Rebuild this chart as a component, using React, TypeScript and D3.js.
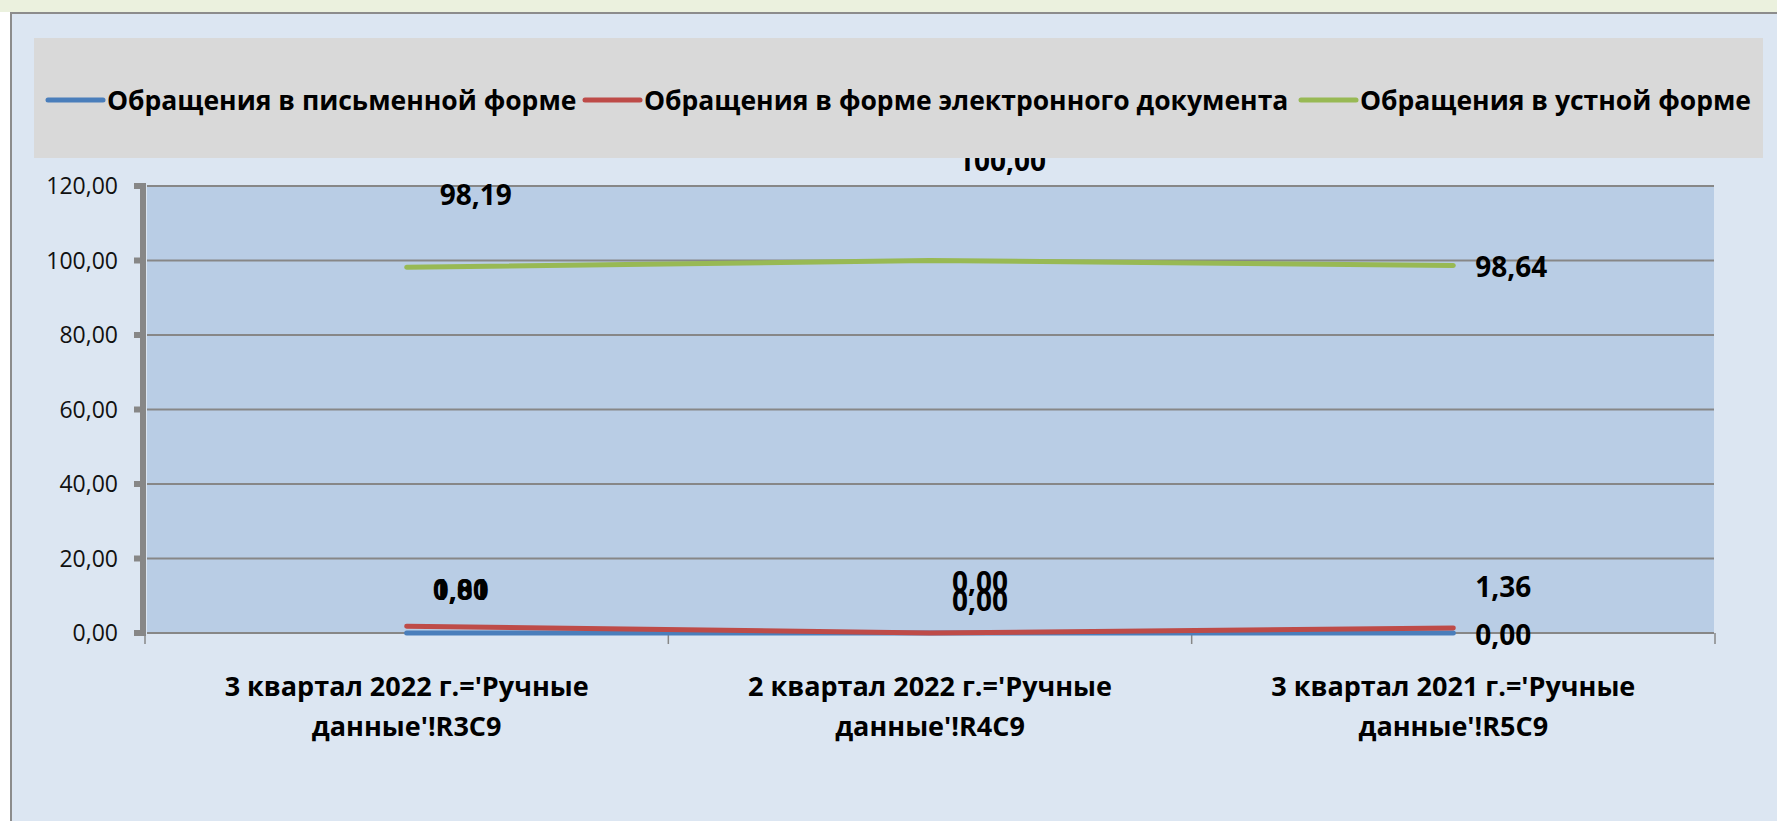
import React from 'react';
import * as d3 from 'd3';

// data
const categoryLines = [
  ["3 квартал 2022 г.='Ручные", "данные'!R3C9"],
  ["2 квартал 2022 г.='Ручные", "данные'!R4C9"],
  ["3 квартал 2021 г.='Ручные", "данные'!R5C9"],
];
const writtenValues = [0, 0, 0];
const electronicValues = [1.81, 0, 1.36];
const oralValues = [98.19, 100, 98.64];
const yTicks = [0, 20, 40, 60, 80, 100, 120];

const W = 1777;
const H = 821;
const FONT = "'Open Sans', 'Noto Sans', sans-serif";

// label offsets (px) from each point, as placed in the original
const series = [
  {
    name: 'Обращения в письменной форме',
    values: writtenValues,
    color: '#4A7EBB',
    labelOffsets: [[54, -43], [50, -32], [50, 2]],
    legendX: 48,
  },
  {
    name: 'Обращения в форме электронного документа',
    values: electronicValues,
    color: '#BE4B48',
    labelOffsets: [[54, -36], [50, -51], [50, -41]],
    legendX: 585,
  },
  {
    name: 'Обращения в устной форме',
    values: oralValues,
    color: '#98B954',
    labelOffsets: [[69, -72], [72, -100], [58, 1]],
    legendX: 1301,
  },
];

const ruLocale = d3.formatLocale({ decimal: ',', thousands: ' ', grouping: [3], currency: ['', ''] });
const fmt = ruLocale.format('.2f');

export default function App() {
  const plot = { left: 147, right: 1714, top: 186, bottom: 633 };
  const axisLeft = 145;
  const axisRight = 1715;

  const x = d3
    .scalePoint<number>()
    .domain(categoryLines.map((_, i) => i))
    .range([axisLeft, axisRight])
    .padding(0.5);

  const y = d3.scaleLinear().domain([0, 120]).range([plot.bottom, plot.top]);

  const line = d3
    .line<number>()
    .x((_, i) => x(i) as number)
    .y((d) => y(d));

  // category boundary ticks
  const step = x.step();
  const boundaries = d3.range(categoryLines.length + 1).map((i) => axisLeft + i * step);

  const grid = '#878787';

  return (
    <div style={{ position: 'fixed', left: 0, top: 0 }}>
      <svg width={W} height={H} style={{ display: 'block', fontFamily: FONT }}>
        <rect x={0} y={0} width={W} height={H} fill="#ffffff" />
        <rect x={0} y={0} width={W} height={12} fill="#EBF1DE" />
        <rect x={11} y={13} width={W - 11} height={H - 13} fill="#DCE6F2" />
        <line x1={10} x2={W} y1={13} y2={13} stroke="#8C8C8C" strokeWidth={2} />
        <line x1={11} x2={11} y1={13} y2={H} stroke="#8C8C8C" strokeWidth={2} />

        {/* plot area */}
        <rect
          x={plot.left}
          y={plot.top}
          width={plot.right - plot.left}
          height={plot.bottom - plot.top}
          fill="#B9CDE5"
        />
        {yTicks.map((t) => (
          <line key={t} x1={plot.left} x2={plot.right} y1={y(t)} y2={y(t)} stroke={grid} strokeWidth={2} />
        ))}

        {/* y axis */}
        <rect x={140} y={y(120) - 3} width={6} height={y(0) - y(120) + 6} fill={grid} />
        {yTicks.map((t) => (
          <g key={'t' + t}>
            <rect x={134} y={y(t) - 3} width={8} height={6} fill={grid} />
            <text x={118} y={y(t)} dy="0.35em" textAnchor="end" fontSize={23} fill="#111">
              {fmt(t)}
            </text>
          </g>
        ))}

        {/* x axis ticks */}
        {boundaries.map((b, i) => (
          <line key={'b' + i} x1={b} x2={b} y1={plot.bottom} y2={plot.bottom + 11} stroke={grid} strokeWidth={1.5} />
        ))}
        {categoryLines.map((lines, i) => (
          <text key={'c' + i} x={x(i)} textAnchor="middle" fontSize={27} fontWeight="bold" fill="#000">
            <tspan x={x(i)} y={696}>{lines[0]}</tspan>
            <tspan x={x(i)} y={736}>{lines[1]}</tspan>
          </text>
        ))}

        {/* lines */}
        {series.map((s) => (
          <path
            key={s.name}
            d={line(s.values) || ''}
            fill="none"
            stroke={s.color}
            strokeWidth={5}
            strokeLinecap="round"
            strokeLinejoin="round"
          />
        ))}

        {/* data labels */}
        {series.map((s) =>
          s.values.map((v, i) => (
            <text
              key={s.name + i}
              x={(x(i) as number) + s.labelOffsets[i][0]}
              y={y(v) + s.labelOffsets[i][1]}
              dy="0.36em"
              textAnchor="middle"
              fontSize={28}
              fontWeight="bold"
              fill="#000"
            >
              {fmt(v)}
            </text>
          ))
        )}

        {/* legend */}
        <rect x={34} y={38} width={1729} height={120} fill="#D9D9D9" />
        {series.map((s) => (
          <g key={'l' + s.name}>
            <line x1={s.legendX} x2={s.legendX + 55} y1={100} y2={100} stroke={s.color} strokeWidth={5} strokeLinecap="round" />
            <text x={s.legendX + 59} y={100} dy="0.36em" fontSize={26.5} fontWeight="bold" fill="#000">
              {s.name}
            </text>
          </g>
        ))}
      </svg>
    </div>
  );
}
